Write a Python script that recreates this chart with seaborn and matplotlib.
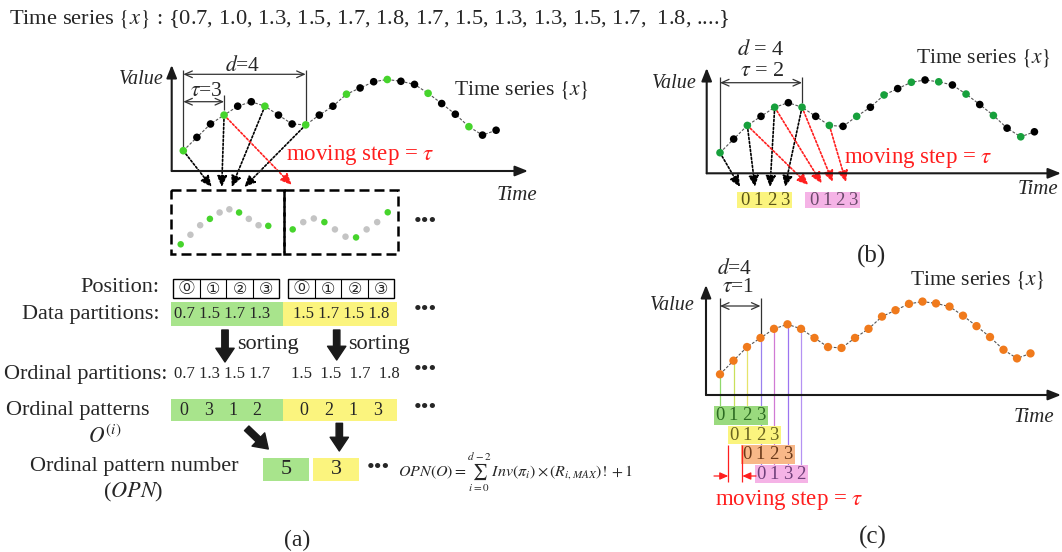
import numpy as np
import pandas as pd
import seaborn as sns
import matplotlib
matplotlib.use('Agg')
import matplotlib.pyplot as plt
from matplotlib.patches import Rectangle

sns.set_theme(style='white')
plt.rcParams['font.family'] = ['Liberation Serif', 'DejaVu Sans']
plt.rcParams['mathtext.fontset'] = 'stix'

# ---------------- data ----------------
title_values = [0.7, 1.0, 1.3, 1.5, 1.7, 1.8, 1.7, 1.5, 1.3, 1.3, 1.5, 1.7, 1.8]
series = [0.7, 1.0, 1.3, 1.5, 1.7, 1.8, 1.7, 1.5, 1.3, 1.28, 1.5, 1.7,
          1.97, 2.11, 2.25, 2.3, 2.26, 2.19, 1.99, 1.76, 1.52, 1.24, 1.05, 1.16]
window_a1 = list(range(0, 10))
window_a2 = list(range(3, 13))
position_labels = ['⓪', '①', '②', '③']
partitions = [[0.7, 1.5, 1.7, 1.3], [1.5, 1.7, 1.5, 1.8]]
sorted_partitions = [[0.7, 1.3, 1.5, 1.7], [1.5, 1.5, 1.7, 1.8]]
patterns = [[0, 3, 1, 2], [0, 2, 1, 3]]
opn_numbers = [5, 3]
b_labels = [[0, 1, 2, 3], [0, 1, 2, 3]]
c_labels = [[0, 1, 2, 3], [0, 1, 2, 3], [0, 1, 2, 3], [0, 1, 3, 2]]

# ---------------- colours ----------------
GREEN_A = '#46d42c'
GREEN_B = '#17a03c'
ORANGE_C = '#f07a1c'
BOX_GREEN = '#a8e48c'
BOX_YELLOW = '#fbf47e'
BOX_PINK = '#f5b3e6'
BOX_ORANGE = '#f8b888'
RED = '#ff1e1e'

W, H = 1062, 552
fig = plt.figure(figsize=(W / 100, H / 100), dpi=100)
main = fig.add_axes([0, 0, 1, 1])
main.set_xlim(0, W)
main.set_ylim(H, 0)
main.axis('off')


def px_axes(x0, y0, x1, y1):
    a = fig.add_axes([x0 / W, 1 - y1 / H, (x1 - x0) / W, (y1 - y0) / H])
    a.set_facecolor('none')
    a.axis('off')
    return a


def limits(a, left, right, top, base, ix0, dx, vy0, dy, v0):
    a.set_xlim((left - ix0) / dx, (right - ix0) / dx)
    a.set_ylim(v0 - (base - vy0) / dy, v0 + (vy0 - top) / dy)


def to_px(a, x, y):
    return main.transData.inverted().transform(a.transData.transform((x, y)))


def axis_arrows(a):
    kw = dict(arrowstyle='-|>,head_length=0.55,head_width=0.22', color='k', lw=1.5,
              shrinkA=0, shrinkB=0, mutation_scale=14)
    a.annotate('', xy=(0, 1), xytext=(0, 0), xycoords='axes fraction', arrowprops=kw)
    a.annotate('', xy=(1, 0), xytext=(0, 0), xycoords='axes fraction', arrowprops=kw)


def draw_series(a, idx, colors, size, line=True):
    df = pd.DataFrame({'t': idx, 'v': [series[i] for i in idx], 'c': colors})
    if not line:
        df['t'] = np.arange(len(idx))
    if line:
        sns.lineplot(data=df, x='t', y='v', ax=a, color='#555555', lw=0.8,
                     linestyle=(0, (2.5, 1.5)), zorder=1)
    pal = {c: c for c in set(colors)}
    sns.scatterplot(data=df, x='t', y='v', hue='c', palette=pal, s=size, linewidth=0,
                    legend=False, ax=a, zorder=3)
    a.set_xlabel('')
    a.set_ylabel('')
    return df


def T(x, y, s, size=16, ha='center', va='center', **kw):
    main.text(x, y, s, fontsize=size, ha=ha, va=va, **kw)


def dotted_arrow(a, i, target, color):
    main.annotate('', xy=target, xycoords='data', xytext=(i, series[i]), textcoords=a.transData,
                  arrowprops=dict(arrowstyle='-|>,head_length=0.55,head_width=0.25',
                                  linestyle=(0, (1.2, 1.2)), color=color, lw=1.2,
                                  shrinkA=3, shrinkB=0, mutation_scale=12))


def dbl_arrow(x0, x1, y):
    main.annotate('', xy=(x1, y), xytext=(x0, y),
                  arrowprops=dict(arrowstyle='<->,head_length=0.45,head_width=0.2', lw=0.9,
                                  color='#333333', shrinkA=0, shrinkB=0, mutation_scale=12))


def vline(x, y0, y1, color='#333333', lw=0.9):
    main.plot([x, x], [y0, y1], color=color, lw=lw, solid_capstyle='butt')


def thick_arrow(x0, y0, x1, y1):
    main.annotate('', xy=(x1, y1), xytext=(x0, y0),
                  arrowprops=dict(arrowstyle='simple,head_length=0.45,head_width=0.6,tail_width=0.21',
                                  color='k', shrinkA=0, shrinkB=0, mutation_scale=22))


def box(x0, y0, x1, y1, fc, ec='none', lw=0, ls='-'):
    main.add_patch(Rectangle((x0, y0), x1 - x0, y1 - y0, facecolor=fc, edgecolor=ec, lw=lw,
                             linestyle=ls, zorder=0.5))


n = len(series)

# ---------------- title ----------------
title = ('Time series $\\{x\\}$ : {' + ', '.join(f'{v:.1f}' for v in title_values[:-1])
         + ',  ' + f'{title_values[-1]:.1f}' + ', ....}')
T(9, 19, title, size=16.2, ha='left')

# ================= panel (a) =================
axA = px_axes(171.7, 65, 528, 171)
draw_series(axA, list(range(n)), [GREEN_A if i % 3 == 0 else 'black' for i in range(n)], 30)
limits(axA, 171.7, 528, 65, 171, 183.3, 13.6, 150.7, 44.5, series[0])
axis_arrows(axA)

pA = {i: to_px(axA, i, series[i]) for i in range(n)}
vline(pA[0][0], 70, pA[0][1] - 4)
vline(pA[9][0], 70, pA[9][1] - 4)
dbl_arrow(pA[0][0], pA[9][0], 74.3)
dbl_arrow(pA[0][0], pA[3][0], 101.7)
vline(pA[3][0], 95, 110)
T(243, 66, '$d$=4', size=15.5)
T(206, 91, '$\\tau$=3', size=15.5)
T(141, 80, 'Value', size=14.5, style='italic')
T(517, 196, 'Time', size=15, style='italic')
T(522, 90, 'Time series $\\{x\\}$', size=15.5)
T(360, 155, 'moving step = $\\tau$', size=16.5, color=RED)

for i, tx in zip([0, 3, 6, 9], [211.7, 221.7, 231.7, 244.3]):
    dotted_arrow(axA, i, (tx, 187), 'black')
dotted_arrow(axA, 3, (291.7, 185), RED)

# dashed boxes with window thumbnails
box(170.7, 190, 284, 254.3, 'none', ec='black', lw=1.8, ls=(0, (4, 2)))
box(284, 190, 398.3, 254.3, 'none', ec='black', lw=1.8, ls=(0, (4, 2)))
axW1 = px_axes(170.7, 190, 284, 254.3)
draw_series(axW1, window_a1, [GREEN_A if k % 3 == 0 else '#c4c4c4' for k in range(10)], 22, line=False)
limits(axW1, 170.7, 284, 190, 254.3, 180.7, 9.73, 244.3, 31.8, series[window_a1[0]])
axW2 = px_axes(284, 190, 398.3, 254.3)
draw_series(axW2, window_a2, [GREEN_A if k % 3 == 0 else '#c4c4c4' for k in range(10)], 22, line=False)
limits(axW2, 284, 398.3, 190, 254.3, 292.7, 10.56, 229.4, 36.4, series[window_a2[0]])

DOTS = '\u2022\u2022\u2022'
T(425, 223, DOTS, size=16)

# position row
T(159.3, 288, 'Position:', ha='right')
for p, x0 in enumerate([173.3, 288.3]):
    box(x0, 279.3, x0 + 106, 298.3, 'none', ec='black', lw=1.0)
    for k in range(4):
        if k:
            vline(x0 + 26.5 * k, 279.3, 298.3, color='black', lw=0.8)
        main.text(x0 + 13.25 + 26.5 * k, 289, position_labels[k], fontsize=11.5, ha='center',
                  va='center', family=['DejaVu Sans', 'Noto Sans CJK JP'])

# data partitions
T(159.3, 314, 'Data partitions:', ha='right')
for p, (x0, fc, cx) in enumerate([(170.7, BOX_GREEN, 222), (283.3, BOX_YELLOW, 341)]):
    box(x0, 301.7, x0 + 113.4, 325.7, fc)
    T(cx, 314.5, ' '.join(f'{v:.1f}' for v in partitions[p]), size=12)
T(425, 310, DOTS, size=16)

thick_arrow(225, 330, 225, 362)
thick_arrow(336.7, 330, 336.7, 360)
T(237, 345, 'sorting', ha='left')
T(348, 344, 'sorting', ha='left')

T(167, 374, 'Ordinal partitions:', ha='right')
T(221.7, 374.5, ' '.join(f'{v:.1f}' for v in sorted_partitions[0]), size=12)
T(345.5, 374, '  '.join(f'{v:.1f}' for v in sorted_partitions[1]), size=12)
T(425, 370, DOTS, size=16)

T(78, 410, 'Ordinal patterns')
T(105, 437, '$O^{(i)}$', size=15.5)
for p, (x0, fc, off) in enumerate([(170.7, BOX_GREEN, 13), (283.3, BOX_YELLOW, 20.5)]):
    box(x0, 399.3, x0 + 113.4, 421, fc)
    for k, d in enumerate(patterns[p]):
        T(x0 + off + 24.5 * k, 410.5, str(d), size=13)
T(425, 409, DOTS, size=16)

thick_arrow(246.7, 428.3, 268.3, 449)
thick_arrow(339.3, 423.3, 339.3, 451)

T(134, 467, 'Ordinal pattern number')
T(133, 492, '($OPN$)')
for p, (x0, fc) in enumerate([(263.3, BOX_GREEN), (313.3, BOX_YELLOW)]):
    box(x0, 458.3, x0 + 45.5, 481, fc)
    T(x0 + 22.8, 470, str(opn_numbers[p]), size=16)
T(378, 469, DOTS, size=16)
T(398, 472, '$OPN(O)=\\sum_{i=0}^{d-2}\\,Inv(\\pi_i)\\times\\left(R_{i,MAX}\\right)!+1$',
  size=11.5, ha='left')
T(297.5, 540, '(a)', size=17)

# ================= panel (b) =================
axB = px_axes(706.7, 68, 1061, 173.3)
draw_series(axB, list(range(n)), [GREEN_B if i % 2 == 0 else 'black' for i in range(n)], 30)
limits(axB, 706.7, 1061, 68, 173.3, 720, 13.67, 152.7, 45.45, series[0])
axis_arrows(axB)
pB = {i: to_px(axB, i, series[i]) for i in range(n)}
vline(pB[0][0], 76.7, pB[0][1] - 4)
vline(pB[6][0], 76.7, pB[6][1] - 4)
dbl_arrow(pB[0][0], pB[6][0], 82.7)
T(761, 50, '$d$ = 4', size=16)
T(762, 72, '$\\tau$ = 2', size=16)
T(674, 83, 'Value', size=14.5, style='italic')
T(1038, 190, 'Time', size=15, style='italic')
T(984, 58, 'Time series $\\{x\\}$', size=15.5)
T(918, 158, 'moving step = $\\tau$', size=16.5, color=RED)
for i, tx in zip([0, 2, 4, 6], [740, 755, 770, 785]):
    dotted_arrow(axB, i, (tx, 187), 'black')
for i, (tx, ty) in zip([2, 4, 6, 8], [(808.3, 185), (821.7, 183.5), (832.7, 182), (846, 182)]):
    dotted_arrow(axB, i, (tx, ty), RED)
for p, (x0, fc, tc) in enumerate([(736.7, BOX_YELLOW, '#5a5418'), (805, BOX_PINK, '#6a4a6a')]):
    box(x0, 191.7, x0 + 55, 208.3, fc)
    for k, d in enumerate(b_labels[p]):
        T(x0 + 8.5 + 13.2 * k, 200.5, str(d), size=13.5, color=tc)
T(872, 256, '(b)', size=18)

# ================= panel (c) =================
axC = px_axes(706, 285, 1061, 395)
draw_series(axC, list(range(n)), [ORANGE_C] * n, 36)
limits(axC, 706, 1061, 285, 395, 720, 13.5, 374.3, 45.45, series[0])
axis_arrows(axC)
pC = {i: to_px(axC, i, series[i]) for i in range(n)}
vline(pC[0][0], 298, pC[0][1] - 4)
vline(pC[3][0], 298, pC[3][1] - 4)
dbl_arrow(pC[0][0], pC[3][0], 306)
T(735, 269, '$d$=4', size=15.5)
T(738, 288, '$\\tau$=1', size=15.5)
T(672, 305, 'Value', size=14.5, style='italic')
T(1034, 417, 'Time', size=15, style='italic')
T(978, 280, 'Time series $\\{x\\}$', size=15.5)

line_cols = ['#8fd86c', '#c9e05a', '#e6e46a', '#9a80ee', '#d07ad4', '#9c74f0', '#b592f2']
line_ends = [406, 406, 406, 466, 466, 466, 466]
for i, (lc, ye) in enumerate(zip(line_cols, line_ends)):
    main.plot([pC[i][0], pC[i][0]], [pC[i][1] + 3, ye], color=lc, lw=0.9, zorder=0.4)

c_box_cols = [('#9ada7e', '#2d6b22'), (BOX_YELLOW, '#6b6520'),
              (BOX_ORANGE, '#6b3a1a'), (BOX_PINK, '#70407a')]
for w, ((fc, tc), labs) in enumerate(zip(c_box_cols, c_labels)):
    y0 = 406 + 19.6 * w
    xs = [pC[w + k][0] for k in range(4)]
    box(xs[0] - 6, y0, xs[-1] + 7, y0 + 18.5, fc)
    for k, d in enumerate(labs):
        T(xs[k], y0 + 9.5, str(d), size=13.5, color=tc)

vline(728.3, 445, 482, color=RED, lw=0.9)
vline(742.3, 445, 482, color=RED, lw=0.9)
for xa, xb in [(714, 728.3), (756, 742.3)]:
    main.annotate('', xy=(xb, 476), xytext=(xa, 476),
                  arrowprops=dict(arrowstyle='-|>,head_length=0.5,head_width=0.22', color=RED,
                                  lw=0.9, shrinkA=0, shrinkB=0, mutation_scale=10))
T(789, 500, 'moving step = $\\tau$', size=16.5, color=RED)
T(873, 537, '(c)', size=18)

fig.savefig('out.png', dpi=100, facecolor='white')
